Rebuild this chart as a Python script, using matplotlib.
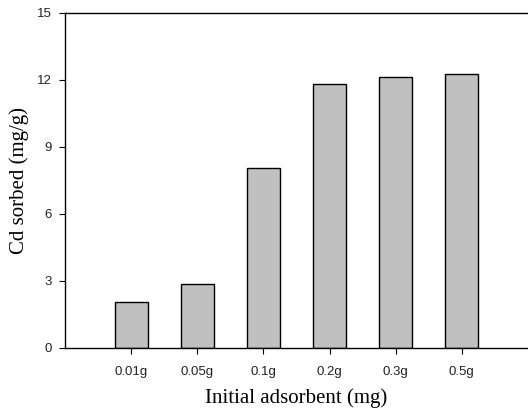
import numpy as np
import matplotlib.pyplot as plt

# Data
doses = ['0.01g', '0.05g', '0.1g', '0.2g', '0.3g', '0.5g']
cd_sorbed = [2.07, 2.86, 8.04, 11.82, 12.13, 12.26]
y_ticks = [0, 3, 6, 9, 12, 15]

fig = plt.figure(figsize=(5.28, 4.09), dpi=100)
ax = fig.add_axes([65/528, 1-348/409, 1-65/528, (348-12.5)/409])

xval = np.arange(len(doses))
ax.bar(xval, cd_sorbed, width=0.5, color='#c0c0c0', edgecolor='black', linewidth=1.0)

ax.set_xlim(-1, 6)
ax.set_ylim(0, 15)
ax.set_yticks(y_ticks)
ax.set_xticks(xval, labels=doses)
ax.tick_params(direction='out', length=4.3, width=0.8, labelsize=9.5, colors='black', pad=5)
ax.tick_params(axis='x', pad=9)
for lab in ax.get_xticklabels() + ax.get_yticklabels():
    lab.set_family('Liberation Sans')
    lab.set_color('#222222')

ax.spines['right'].set_visible(False)
for s in ['left', 'top', 'bottom']:
    ax.spines[s].set_linewidth(1.0)

ax.set_xlabel('Initial adsorbent (mg)', family='Liberation Serif', fontsize=15, labelpad=7)
ax.set_ylabel('Cd sorbed (mg/g)', family='Liberation Serif', fontsize=15, labelpad=6)

fig.savefig('out.png', dpi=100)
